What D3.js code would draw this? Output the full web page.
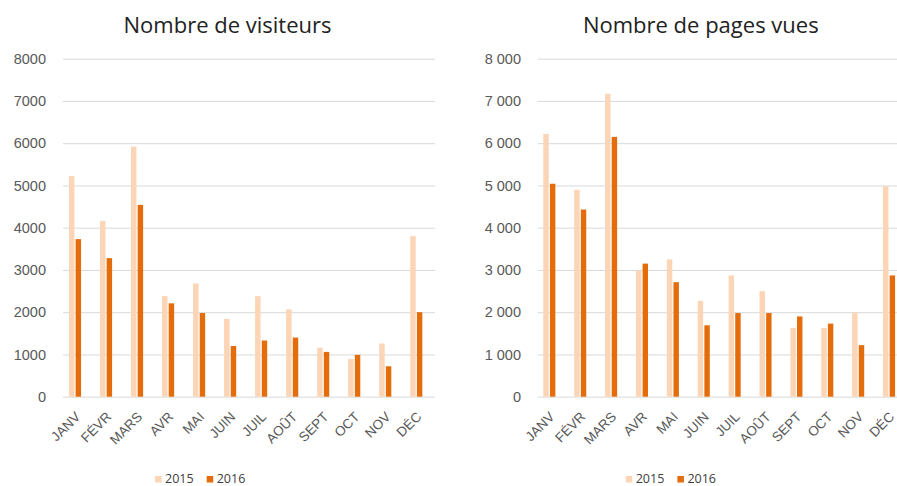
<!DOCTYPE html>
<html>
  <head>
    <meta charset="utf-8">
    <script src="https://d3js.org/d3.v7.min.js"></script>
    <title>Visiteurs et pages vues</title>
    <style>
      body { margin: 0; background: #fff; }
      svg { font-family: 'Open Sans', sans-serif; }
      .title { font-size: 22px; fill: #222; }
      .y-axis text { font-size: 14.5px; fill: #595959; }
      .x-axis text { font-size: 13.5px; fill: #595959; }
      .legend text { font-size: 12.5px; fill: #404040; }
    </style>
  </head>
  <body>
    <svg width="897" height="486"></svg>
    <script>
      // data
      const months = ['JANV', 'FÉVR', 'MARS', 'AVR', 'MAI', 'JUIN', 'JUIL', 'AOÛT', 'SEPT', 'OCT', 'NOV', 'DÉC'];
      const years = ['2015', '2016'];
      const visiteurs2015 = [5220, 4160, 5920, 2380, 2680, 1840, 2380, 2070, 1160, 890, 1260, 3800];
      const visiteurs2016 = [3730, 3280, 4540, 2210, 1980, 1200, 1330, 1400, 1060, 990, 720, 2000];
      const pages2015 = [6220, 4900, 7170, 2990, 3250, 2270, 2870, 2500, 1630, 1630, 1990, 4980];
      const pages2016 = [5040, 4430, 6150, 3150, 2710, 1690, 1980, 1980, 1900, 1730, 1220, 2870];
      const yTicks = [0, 1000, 2000, 3000, 4000, 5000, 6000, 7000, 8000];

      const colors = {'2015': '#fbd5b5', '2016': '#e46c0a'};
      const svg = d3.select('svg');

      const yScale = d3.scaleLinear()
        .domain([0, 8000])
        .range([396.7, 58.7]);

      function drawChart(cfg) {
        const g = svg.append('g');

        g.append('text')
          .attr('class', 'title')
          .attr('x', cfg.titleX)
          .attr('y', 33)
          .attr('text-anchor', 'middle')
          .text(cfg.title);

        const yAxis = d3.axisLeft(yScale)
          .tickValues(yTicks)
          .tickFormat(cfg.fmt)
          .tickSize(-(cfg.gridRight - cfg.gridLeft))
          .tickPadding(cfg.gridLeft - cfg.labelRight);
        const yAxisG = g.append('g')
          .attr('class', 'y-axis')
          .attr('transform', `translate(${cfg.gridLeft},0)`)
          .call(yAxis);
        yAxisG.select('.domain').remove();
        yAxisG.selectAll('line').attr('stroke', '#d9d9d9').attr('stroke-width', 1);

        const x0 = d3.scaleBand()
          .domain(months)
          .range(cfg.bandRange)
          .paddingInner(0.61)
          .paddingOuter(0.305);
        const x1 = d3.scaleBand()
          .domain(years)
          .range([0, x0.bandwidth()])
          .paddingInner(0.18);

        const rows = months.map((m, i) => ({
          month: m,
          values: [
            {year: '2015', value: cfg.s2015[i]},
            {year: '2016', value: cfg.s2016[i]}
          ]
        }));

        g.append('g').selectAll('g')
          .data(rows)
          .join('g')
            .attr('transform', d => `translate(${x0(d.month)},0)`)
          .selectAll('rect')
          .data(d => d.values)
          .join('rect')
            .attr('x', d => x1(d.year))
            .attr('y', d => yScale(d.value))
            .attr('width', x1.bandwidth())
            .attr('height', d => yScale(0) - yScale(d.value))
            .attr('fill', d => colors[d.year]);

        const xAxisG = g.append('g')
          .attr('class', 'x-axis')
          .attr('transform', `translate(0,${yScale(0)})`)
          .call(d3.axisBottom(x0).tickSize(0).tickPadding(0));
        xAxisG.select('.domain').remove();
        xAxisG.selectAll('text')
          .attr('text-anchor', 'end')
          .attr('dy', 0)
          .attr('y', 0)
          .attr('transform', 'translate(6,21) rotate(-45)');

        const legend = g.append('g').attr('class', 'legend');
        years.forEach((y, i) => {
          legend.append('rect')
            .attr('x', cfg.legendX + i * 51.7)
            .attr('y', 476)
            .attr('width', 6.5)
            .attr('height', 6.5)
            .attr('fill', colors[y]);
          legend.append('text')
            .attr('x', cfg.legendX + 10 + i * 51.7)
            .attr('y', 483)
            .text(y);
        });
      }

      const frFormat = d3.formatLocale({decimal: ',', thousands: '\u00a0', grouping: [3], currency: ['', ' €']}).format(',d');

      drawChart({
        title: 'Nombre de visiteurs',
        titleX: 227.5,
        s2015: visiteurs2015,
        s2016: visiteurs2016,
        fmt: d3.format('d'),
        gridLeft: 63,
        gridRight: 435,
        labelRight: 46,
        bandRange: [59.5, 431.8],
        legendX: 155
      });

      drawChart({
        title: 'Nombre de pages vues',
        titleX: 700.8,
        s2015: pages2015,
        s2016: pages2016,
        fmt: frFormat,
        gridLeft: 537.7,
        gridRight: 897,
        labelRight: 521,
        bandRange: [533.9, 904.5],
        legendX: 625.7
      });
    </script>
  </body>
</html>
